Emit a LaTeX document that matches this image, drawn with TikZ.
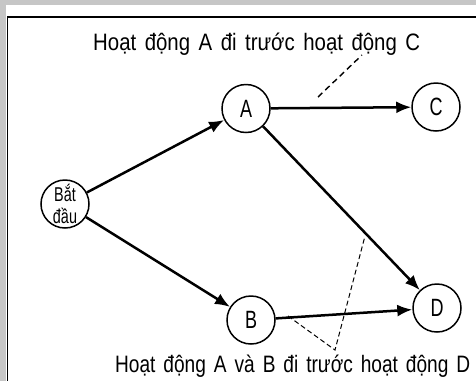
\documentclass[tikz,border=0pt]{standalone}
\usepackage{fontspec}
\setmainfont[FakeStretch=0.88,WordSpace=1.5]{Liberation Sans}
\newfontfamily\condfont[FakeStretch=0.72]{Liberation Sans}
\usetikzlibrary{arrows.meta}
\begin{document}
\begin{tikzpicture}[x=1pt,y=-1pt,
  ev/.style={circle,draw,line width=1.5pt,minimum size=48pt,inner sep=0pt,font=\condfont\fontsize{25}{25}\selectfont},
  act/.style={line width=2.5pt,-{Latex[length=15pt,width=12pt]}},
  lbl/.style={font=\fontsize{22}{22}\selectfont,inner sep=0pt},
  dsh1/.style={line width=1.4pt,dash pattern=on 6pt off 4pt},
  dsh2/.style={line width=1pt,dash pattern=on 5pt off 3pt}]
\useasboundingbox (0,0) rectangle (476,381);
\fill[white] (0,0) rectangle (476,381);
\fill[gray!45] (0,0) rectangle (476,5);
\fill[gray!45] (0,0) rectangle (6,381);
\draw[line width=1.5pt] (476,17) -- (7.5,17) -- (7.5,381);
\node[ev,font=\condfont\fontsize{20}{22}\selectfont,align=center] (S) at (65,204) {Bắt\\đầu};
\node[ev] (A) at (246,108.5) {A};
\node[ev] (C) at (436,107) {C};
\node[ev] (B) at (251,320) {B};
\node[ev] (D) at (437,308) {D};
\draw[act] (S) -- (A);
\draw[act] (S) -- (B);
\draw[act] (A) -- (C);
\draw[act] (A) -- (D);
\draw[act] (B) -- (D);
\node[lbl,anchor=west] (T1) at (93,44) {\resizebox{327pt}{1.08\height}{Hoạt động A đi trước hoạt động C}};
\node[lbl,anchor=west] (T2) at (115,366) {\resizebox{355pt}{1.08\height}{Hoạt động A và B đi trước hoạt động D}};
\coordinate (p1) at (318,97);
\coordinate (p2) at (362,55);
\draw[dsh1] (p1) -- (p2);
\coordinate (q1) at (288,316);
\coordinate (q2) at (335,350);
\coordinate (q3) at (365,236);
\draw[dsh2] (q1) -- (q2) -- (q3);
\end{tikzpicture}
\end{document}
